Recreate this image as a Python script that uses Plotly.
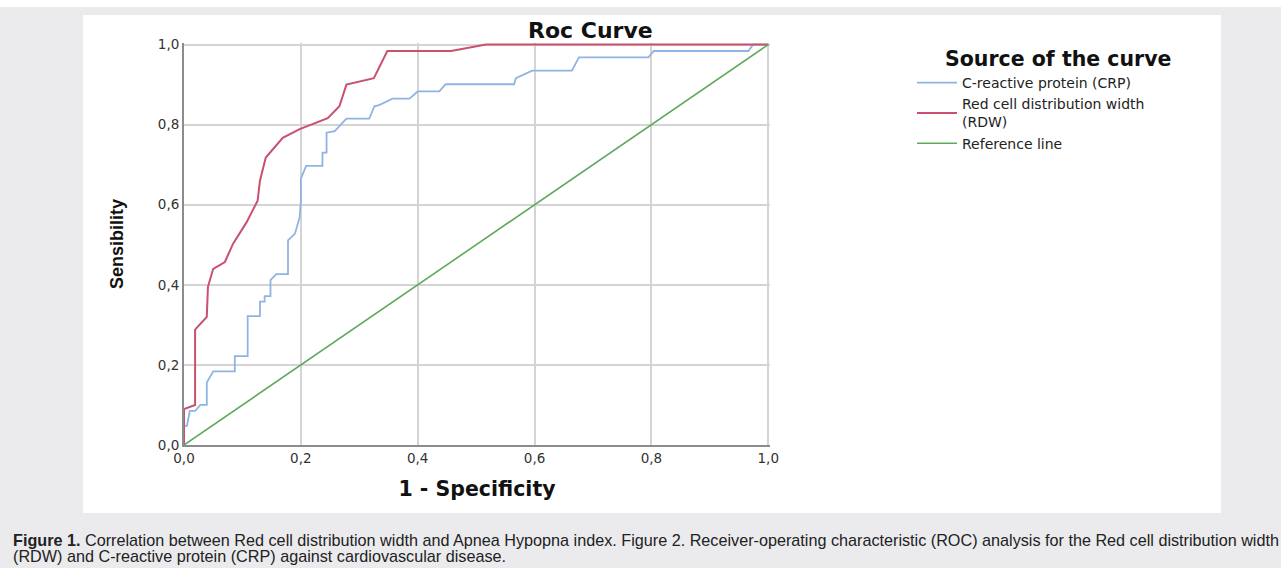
import plotly.graph_objects as go

# ---- data ----
crp_fpr = [0.0, 0.0, 0.005, 0.01, 0.019, 0.028, 0.039, 0.039, 0.05, 0.087, 0.087, 0.109, 0.109,
           0.13, 0.13, 0.138, 0.138, 0.148, 0.148, 0.158, 0.178, 0.178, 0.19, 0.198, 0.2, 0.2,
           0.209, 0.237, 0.237, 0.244, 0.244, 0.258, 0.278, 0.317, 0.326, 0.334, 0.357, 0.386,
           0.4, 0.437, 0.448, 0.565, 0.568, 0.596, 0.664, 0.676, 0.795, 0.804, 0.966, 0.974, 1.0]
crp_tpr = [0.0, 0.048, 0.048, 0.085, 0.085, 0.10, 0.10, 0.156, 0.184, 0.184, 0.222, 0.222, 0.322,
           0.322, 0.358, 0.358, 0.372, 0.372, 0.412, 0.427, 0.427, 0.511, 0.528, 0.569, 0.61, 0.665,
           0.697, 0.697, 0.73, 0.73, 0.78, 0.784, 0.815, 0.815, 0.846, 0.849, 0.865, 0.865,
           0.883, 0.883, 0.901, 0.901, 0.916, 0.935, 0.935, 0.968, 0.968, 0.984, 0.984, 1.0, 1.0]

rdw_fpr = [0.0, 0.0, 0.019, 0.019, 0.039, 0.041, 0.05, 0.07, 0.084, 0.107, 0.126, 0.13, 0.14,
           0.169, 0.198, 0.246, 0.266, 0.278, 0.325, 0.348, 0.457, 0.517, 1.0]
rdw_tpr = [0.0, 0.09, 0.10, 0.288, 0.32, 0.395, 0.44, 0.457, 0.503, 0.556, 0.61, 0.66, 0.718,
           0.767, 0.789, 0.816, 0.846, 0.90, 0.916, 0.984, 0.984, 1.0, 1.0]

ref_x = [0.0, 1.0]
ref_y = [0.0, 1.0]

tick_vals = [0.0, 0.2, 0.4, 0.6, 0.8, 1.0]
series_names = ["C-reactive protein (CRP)", "Red cell distribution width<br>(RDW)", "Reference line"]
title_text = "Roc Curve"
legend_title = "Source of the curve"
x_title = "1 - Specificity"
y_title = "Sensibility"
caption1 = ("<b>Figure 1.</b> Correlation between Red cell distribution width and Apnea Hypopna index. "
            "Figure 2. Receiver-operating characteristic (ROC) analysis for the Red cell distribution width")
caption2 = "(RDW) and C-reactive protein (CRP) against cardiovascular disease."

# ---- layout geometry ----
W, H = 1281, 568
L, R, T, B = 184, 770, 43, 445
PW, PH = R - L, B - T

def px2x(px):
    return (px - L) / PW

def px2y(py):
    return (B - py) / PH

fig = go.Figure()
fig.add_trace(go.Scatter(x=crp_fpr, y=crp_tpr, mode="lines", name=series_names[0],
                         line=dict(color="#8fb4e3", width=1.8)))
fig.add_trace(go.Scatter(x=rdw_fpr, y=rdw_tpr, mode="lines", name=series_names[1],
                         line=dict(color="#c9506f", width=2)))
fig.add_trace(go.Scatter(x=ref_x, y=ref_y, mode="lines", name=series_names[2],
                         line=dict(color="#5fa85c", width=1.6)))

axis_common = dict(
    tickvals=tick_vals,
    tickformat=".1f",
    showgrid=True,
    gridcolor="#d4d4d4",
    gridwidth=1.5,
    zeroline=False,
    ticks="",
    tickfont=dict(family="DejaVu Sans", size=13.5, color="#333333"),
    showline=True, linecolor="#8c8c8c", linewidth=2,
)

fig.update_layout(
    width=W, height=H,
    margin=dict(l=L, r=W - R, t=T, b=H - B, autoexpand=False),
    paper_bgcolor="#ebebee",
    plot_bgcolor="white",
    separators=",.",
    showlegend=True,
    legend=dict(
        x=px2x(912), xanchor="left",
        y=px2y(67), yanchor="top",
        bgcolor="rgba(0,0,0,0)",
        font=dict(family="DejaVu Sans", size=14, color="#222222"),
        tracegroupgap=0,
        itemwidth=40,
    ),
    xaxis=dict(**axis_common,
               range=[0, 1.003],
               title=dict(text="<b>" + x_title + "</b>", standoff=16,
                          font=dict(family="DejaVu Sans", size=20.5, color="#111111"))),
    yaxis=dict(**axis_common,
               range=[0, 1.004],
               title=dict(text="<b>" + y_title + "</b>", standoff=30,
                          font=dict(family="Liberation Sans", size=18, color="#111111"))),
)

# white panel behind the chart, white strip at top of page
fig.add_shape(type="rect", xref="paper", yref="paper",
              x0=px2x(83), x1=px2x(1221), y0=px2y(513), y1=px2y(15),
              fillcolor="white", line=dict(width=0), layer="below")
fig.add_shape(type="rect", xref="paper", yref="paper",
              x0=px2x(0), x1=px2x(W), y0=px2y(7), y1=px2y(0),
              fillcolor="white", line=dict(width=0), layer="below")

fig.add_annotation(text="<b>" + title_text + "</b>", xref="paper", yref="paper",
                   x=px2x(590), y=px2y(31), xanchor="center", yanchor="middle",
                   showarrow=False, font=dict(family="DejaVu Sans", size=22, color="#111111"))

fig.add_annotation(text="<b>" + legend_title + "</b>", xref="paper", yref="paper",
                   x=px2x(1058), y=px2y(59), xanchor="center", yanchor="middle",
                   showarrow=False, font=dict(family="DejaVu Sans", size=20.5, color="#111111"))

fig.add_annotation(text=caption1, xref="paper", yref="paper",
                   x=px2x(11), y=px2y(540), xanchor="left", yanchor="middle",
                   showarrow=False, font=dict(family="Liberation Sans", size=16.2, color="#222222"))
fig.add_annotation(text=caption2, xref="paper", yref="paper",
                   x=px2x(11), y=px2y(556), xanchor="left", yanchor="middle",
                   showarrow=False, font=dict(family="Liberation Sans", size=16.2, color="#222222"))

fig.write_html("out.html",
               config={"displayModeBar": False},
               post_script="document.body.style.margin='0';document.body.style.padding='0';")
